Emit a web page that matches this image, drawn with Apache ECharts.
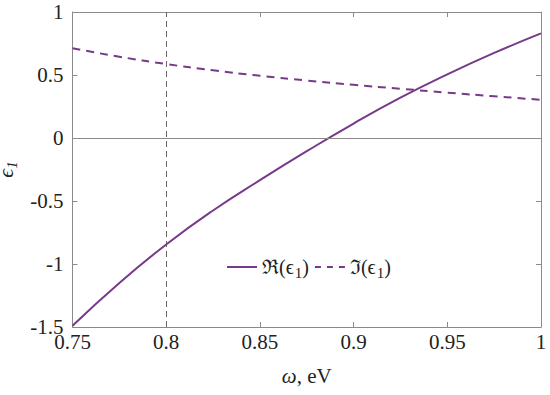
<!DOCTYPE html>
<html><head><meta charset="utf-8">
<script src="https://cdn.jsdelivr.net/npm/echarts@6/dist/echarts.min.js"></script>
<style>html,body{margin:0;padding:0;background:#fff}#c{width:550px;height:395px}</style>
</head><body><div id="c"></div>
<script>
var omega = [0.75, 0.775, 0.8, 0.825, 0.85, 0.875, 0.9, 0.925, 0.95, 0.975, 1.0];
var reEps = [-1.49, -1.15, -0.845, -0.575, -0.335, -0.105, 0.115, 0.32, 0.505, 0.675, 0.83];
var imEps = [0.712, 0.645, 0.587, 0.537, 0.494, 0.456, 0.422, 0.391, 0.36, 0.331, 0.303];
var xTicks = [0.75, 0.8, 0.85, 0.9, 0.95, 1];
var yTicks = [-1.5, -1, -0.5, 0, 0.5, 1];

var color = '#763a89';
var FF = 'Liberation Serif';
function pairs(xs, ys){ return xs.map(function(x,i){return [x, ys[i]];}); }
var axisGray = '#8a8a8a';
var txt = '#222';

var chart = echarts.init(document.getElementById('c'), null, {renderer:'svg'});
chart.setOption({
  animation:false,
  grid:{left:72.5, right:9, top:12, bottom:68, containLabel:false, outerBoundsMode:'none'},
  legend:{
    left:222, top:252, itemWidth:30, itemHeight:12, itemGap:6,
    textStyle:{fontFamily:FF, fontSize:20, color:txt,
      rich:{s:{fontFamily:FF, fontSize:15, verticalAlign:'bottom', padding:[12,0,0,1], color:txt},
            n:{fontFamily:FF, fontSize:20, color:txt}}},
    formatter:function(n){ return n==='re' ? '{n|ℜ(ϵ}{s|1}{n|)}' : '{n|ℑ(ϵ}{s|1}{n|)}'; },
    data:[{name:'re', icon:'path://M0,0 L30,0 L30,2 L0,2 Z'}, {name:'im', icon:'path://M0,0 L6,0 L6,2 L0,2 Z M12,0 L18,0 L18,2 L12,2 Z M24,0 L30,0 L30,2 L24,2 Z'}]
  },
  xAxis:[{
    type:'value', min:0.75, max:1, interval:0.05, position:'bottom',
    name:'{i|ω}{n|, eV}', nameLocation:'middle', nameGap:38,
    nameTextStyle:{fontFamily:FF, fontSize:21, rich:{i:{fontFamily:FF, fontStyle:'italic', fontSize:21, color:txt}, n:{fontFamily:FF, fontSize:21, color:txt}}},
    axisLine:{show:true, onZero:false, lineStyle:{color:axisGray, width:1}},
    axisTick:{show:true, inside:true, length:5, lineStyle:{color:axisGray}},
    axisLabel:{fontFamily:FF, fontSize:21, color:txt, margin:4},
    splitLine:{show:false}
  },{
    type:'value', min:0.75, max:1, interval:0.05, position:'top',
    axisLine:{show:true, onZero:false, lineStyle:{color:axisGray, width:1}},
    axisTick:{show:true, inside:true, length:5, lineStyle:{color:axisGray}},
    axisLabel:{show:false, fontFamily:FF}, splitLine:{show:false}
  }],
  yAxis:[{
    type:'value', min:-1.5, max:1, interval:0.5, position:'left',
    name:'{i|ϵ}{s|1}', nameLocation:'middle', nameGap:40, nameRotate:90,
    nameTextStyle:{fontFamily:FF, fontSize:22, rich:{i:{fontFamily:FF, fontStyle:'italic', fontSize:22, color:txt}, s:{fontFamily:FF, fontStyle:'italic', fontSize:15, color:txt, verticalAlign:'bottom', padding:[12,0,0,0]}}},
    axisLine:{show:true, onZero:false, lineStyle:{color:axisGray, width:1}},
    axisTick:{show:true, inside:true, length:5, lineStyle:{color:axisGray}},
    axisLabel:{fontFamily:FF, fontSize:21, color:txt, margin:9},
    splitLine:{show:false}
  },{
    type:'value', min:-1.5, max:1, interval:0.5, position:'right',
    axisLine:{show:true, onZero:false, lineStyle:{color:axisGray, width:1}},
    axisTick:{show:true, inside:true, length:5, lineStyle:{color:axisGray}},
    axisLabel:{show:false, fontFamily:FF}, splitLine:{show:false}
  }],
  series:[{
    name:'re', type:'line', smooth:true, showSymbol:false, symbol:'none',
    data:pairs(omega, reEps), lineStyle:{color:color, width:2}, itemStyle:{color:color},
    markLine:{silent:true, symbol:'none', label:{show:false}, animation:false,
      data:[{yAxis:0, lineStyle:{color:axisGray, type:'solid', width:1}},
            {xAxis:0.8, lineStyle:{color:'#666', type:[6,4], width:1}}]}
  },{
    name:'im', type:'line', smooth:true, showSymbol:false, symbol:'none',
    data:pairs(omega, imEps), lineStyle:{color:color, width:2, type:[8,6]}, itemStyle:{color:color}
  }]
});
</script></body></html>
